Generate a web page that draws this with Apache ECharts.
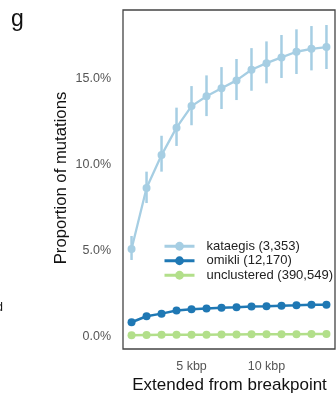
<!DOCTYPE html>
<html><head><meta charset="utf-8">
<script src="https://cdn.jsdelivr.net/npm/echarts@6/dist/echarts.min.js"></script>
<style>html,body{margin:0;padding:0;background:#fff}#c{width:336px;height:396px}</style>
</head><body><div id="c"></div>
<script>
const kbp = [1,2,3,4,5,6,7,8,9,10,11,12,13,14];
const kataegis = [5.10,8.63,10.54,12.13,13.38,13.95,14.41,14.87,15.49,15.87,16.20,16.53,16.70,16.80];
const kataegisLow = [4.46,7.76,9.58,11.07,12.27,12.80,13.21,13.73,14.27,14.70,15.01,15.24,15.45,15.53];
const kataegisHigh = [5.85,9.58,11.66,13.29,14.54,15.16,15.64,16.11,16.74,17.13,17.50,17.83,18.02,18.08];
const omikli = [0.85,1.20,1.35,1.53,1.60,1.65,1.69,1.72,1.76,1.78,1.81,1.83,1.86,1.87];
const unclustered = [0.10,0.11,0.12,0.12,0.13,0.13,0.14,0.14,0.15,0.15,0.16,0.16,0.17,0.17];
const seriesNames = ['kataegis (3,353)','omikli (12,170)','unclustered (390,549)'];
const colors = ['#a6cee3','#1f78b4','#b2df8a'];
const yTicks = [0,5,10,15];
const xTicks = [5,10];

const chart = echarts.init(document.getElementById('c'), null, {renderer:'canvas'});
const pair = arr => kbp.map((x,i)=>[x,arr[i]]);
const font = 'Liberation Sans, Arial, sans-serif';
chart.setOption({
  animation:false,
  textStyle:{fontFamily:font},
  grid:{left:123,top:10,right:1,bottom:47,show:true,borderColor:'#444',borderWidth:1.3,backgroundColor:'transparent'},
  xAxis:{type:'value',min:0.43,max:14.57,
    axisLine:{show:false},axisTick:{show:false},splitLine:{show:false},
    axisLabel:{customValues:xTicks,formatter:v=>v+' kbp',color:'#555',fontSize:12.5,margin:11,fontFamily:font}},
  yAxis:{type:'value',min:-0.7,max:18.95,
    axisLine:{show:false},axisTick:{show:false},splitLine:{show:false},
    axisLabel:{customValues:yTicks,formatter:v=>v.toFixed(1)+'%',color:'#555',fontSize:12.5,margin:12,fontFamily:font}},
  legend:{orient:'vertical',left:158,top:234,itemWidth:30,itemHeight:11,itemGap:0,
    lineStyle:{width:3},
    data:seriesNames,textStyle:{fontSize:13,lineHeight:14.5,color:'#222',padding:[0,0,0,7],fontFamily:font}},
  graphic:[
    {type:'text',left:11,top:8,style:{text:'g',fontSize:23,fill:'#111',fontFamily:font}},
    {type:'text',x:3,y:308,style:{text:'d',fontSize:12,fill:'#111',textAlign:'right',textVerticalAlign:'middle',fontFamily:font}},
    {type:'text',x:61,y:178,rotation:Math.PI/2,style:{text:'Proportion of mutations',fontSize:16.7,fill:'#111',textAlign:'center',textVerticalAlign:'middle',fontFamily:font}},
    {type:'text',x:229.5,y:385,style:{text:'Extended from breakpoint',fontSize:17,fill:'#111',textAlign:'center',textVerticalAlign:'middle',fontFamily:font}}
  ],
  series:[
    {type:'custom',name:'err',silent:true,z:1,
      data:kbp.map((x,i)=>[x,kataegisLow[i],kataegisHigh[i]]),
      renderItem:(params,api)=>{
        const p1=api.coord([api.value(0),api.value(1)]);
        const p2=api.coord([api.value(0),api.value(2)]);
        return {type:'line',shape:{x1:p1[0],y1:p1[1],x2:p2[0],y2:p2[1]},style:{stroke:colors[0],lineWidth:2.5}};
      }},
    {type:'line',name:seriesNames[0],data:pair(kataegis),z:2,symbol:'circle',symbolSize:8,
      lineStyle:{width:2.3,color:colors[0]},itemStyle:{color:colors[0]}},
    {type:'line',name:seriesNames[1],data:pair(omikli),z:3,symbol:'circle',symbolSize:8,
      lineStyle:{width:2.5,color:colors[1]},itemStyle:{color:colors[1]}},
    {type:'line',name:seriesNames[2],data:pair(unclustered),z:3,symbol:'circle',symbolSize:8,
      lineStyle:{width:2.5,color:colors[2]},itemStyle:{color:colors[2]}}
  ]
});
</script></body></html>
